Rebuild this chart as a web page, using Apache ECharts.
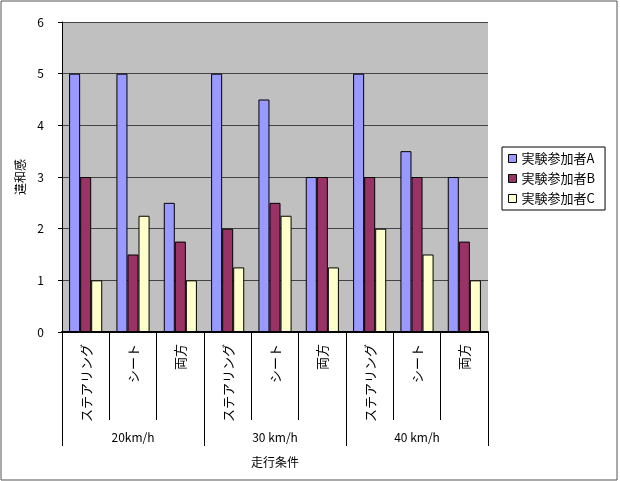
<!DOCTYPE html>
<html>
<head>
<meta charset="utf-8">
<script src="https://cdn.jsdelivr.net/npm/echarts@6/dist/echarts.min.js"></script>
<style>
  html, body { margin: 0; padding: 0; background: #fff; }
  #main { width: 620px; height: 481px; }
</style>
</head>
<body>
<div id="main"></div>
<script>
// 走行条件（下段）と速度（上段グループ）
var conditions = ['ステアリング', 'シート', '両方', 'ステアリング', 'シート', '両方', 'ステアリング', 'シート', '両方'];
var speeds = ['20km/h', '30 km/h', '40 km/h'];
var seriesNames = ['実験参加者A', '実験参加者B', '実験参加者C'];
// 違和感
var valuesA = [5, 5, 2.5, 5, 4.5, 3, 5, 3.5, 3];
var valuesB = [3, 1.5, 1.75, 2, 2.5, 3, 3, 3, 1.75];
var valuesC = [1, 2.25, 1, 1.25, 2.25, 1.25, 2, 1.5, 1];
var yTicks = [0, 1, 2, 3, 4, 5, 6];

var colors = ['#9999ff', '#993366', '#ffffcc'];
var font = '"Noto Sans CJK JP", "DejaVu Sans", sans-serif';

var chart = echarts.init(document.getElementById('main'));

function bar(name, data, color) {
    return {
        name: name,
        type: 'bar',
        data: data,
        xAxisIndex: 0,
        barGap: 0,
        barCategoryGap: '30%',
        itemStyle: { color: color, borderColor: '#000', borderWidth: 1 }
    };
}

chart.setOption({
    animation: false,
    textStyle: { fontFamily: font },
    graphic: [{
        type: 'rect',
        shape: { x: 1, y: 1, width: 616, height: 479 },
        style: { fill: 'none', stroke: '#555', lineWidth: 1 },
        silent: true
    }],
    grid: {
        left: 62, right: 132, top: 22, bottom: 149,
        show: true, backgroundColor: '#c0c0c0', borderWidth: 0
    },
    legend: {
        orient: 'vertical',
        left: 502, top: 147,
        data: seriesNames,
        backgroundColor: '#fff',
        borderColor: '#000',
        borderWidth: 1,
        padding: [5, 10, 5, 6],
        itemWidth: 8, itemHeight: 8, itemGap: 7,
        icon: 'rect',
        itemStyle: { borderColor: '#000', borderWidth: 1 },
        textStyle: { fontSize: 13, color: '#000', fontFamily: font }
    },
    xAxis: [{
        type: 'category',
        data: conditions,
        position: 'bottom',
        axisLine: { lineStyle: { color: '#000', width: 2 } },
        axisTick: { show: true, interval: 0, length: 88, lineStyle: { color: '#000' } },
        axisLabel: {
            interval: 0, rotate: 90, margin: 12,
            fontSize: 13, color: '#000', fontFamily: font
        }
    }, {
        type: 'category',
        data: speeds,
        position: 'bottom',
        axisLine: { show: false },
        axisTick: { show: true, interval: 0, length: 114, lineStyle: { color: '#000' } },
        axisLabel: { interval: 0, margin: 99, fontSize: 12, color: '#000', fontFamily: font },
        name: '走行条件',
        nameLocation: 'middle',
        nameGap: 124,
        nameTextStyle: { fontSize: 12, color: '#000', fontFamily: font }
    }],
    yAxis: {
        type: 'value',
        min: yTicks[0],
        max: yTicks[yTicks.length - 1],
        interval: 1,
        name: '違和感',
        nameLocation: 'middle',
        nameRotate: 90,
        nameGap: 31,
        nameTextStyle: { fontSize: 12, color: '#000', fontFamily: font },
        axisLine: { show: true, lineStyle: { color: '#000' } },
        axisTick: { show: true, length: 4, lineStyle: { color: '#000' } },
        axisLabel: { fontSize: 12, color: '#000', margin: 18, fontFamily: font },
        splitLine: { show: true, lineStyle: { color: '#444', width: 1 } }
    },
    series: [
        bar(seriesNames[0], valuesA, colors[0]),
        bar(seriesNames[1], valuesB, colors[1]),
        bar(seriesNames[2], valuesC, colors[2])
    ]
});
</script>
</body>
</html>
